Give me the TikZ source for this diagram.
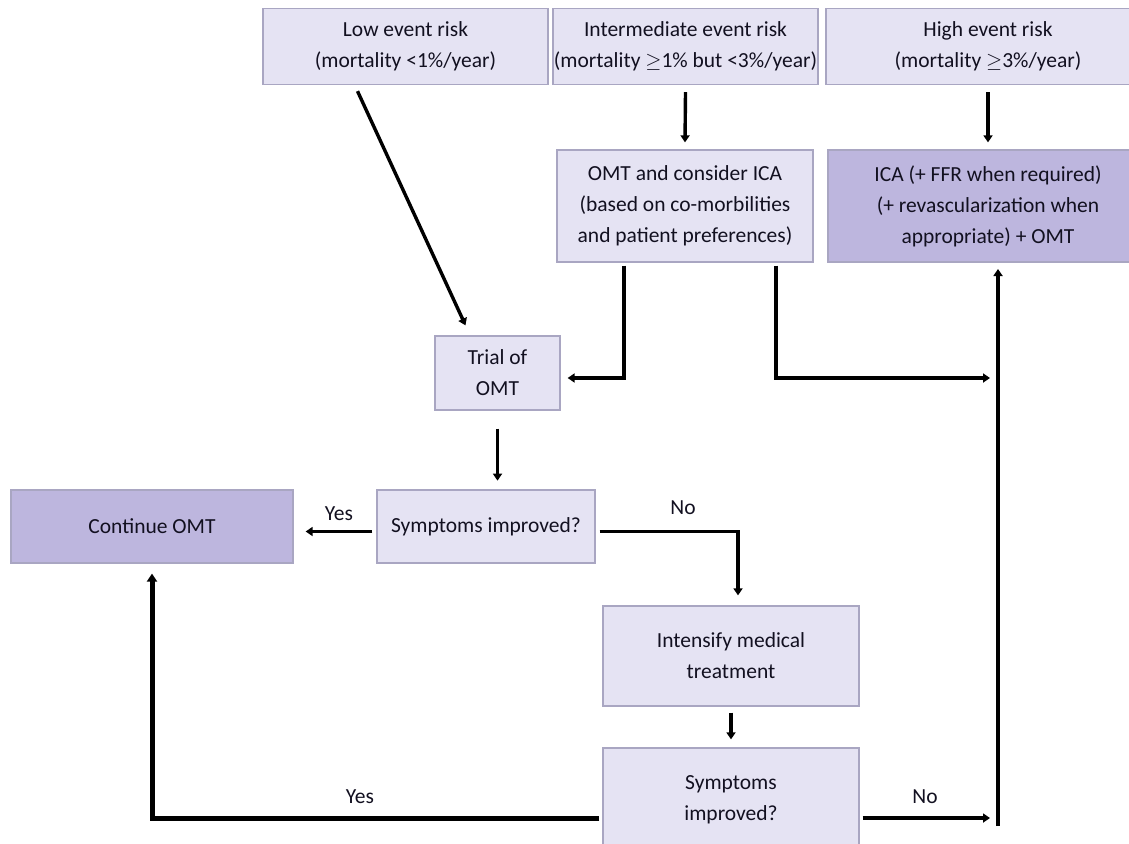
\documentclass[tikz,border=0pt]{standalone}
\usepackage{fontspec}
\setmainfont{Carlito}
\usetikzlibrary{arrows.meta}
\definecolor{lightbox}{HTML}{E5E3F3}
\definecolor{darkbox}{HTML}{BDB6DE}
\definecolor{boxline}{HTML}{A9A6C2}
\definecolor{txt}{HTML}{121020}
\begin{document}
\begin{tikzpicture}[x=1pt,y=-1pt,
  box/.style={draw=boxline, fill=lightbox, line width=1.3pt, align=center, inner sep=0pt,
    text=txt, font=\fontsize{21.5}{31}\selectfont},
  dbox/.style={box, fill=darkbox},
  arr/.style={line width=3.4pt, -{Triangle[length=7pt,width=9pt]}},
  lab/.style={text=txt, font=\fontsize{21.5}{25}\selectfont}
]
\useasboundingbox[fill=white] (0,0) rectangle (1129,843);
% top row
\node[box, minimum width=285pt, minimum height=76pt] (low) at (405.5,46.5) {Low event risk\\(mortality <1\%/year)};
\node[box, minimum width=265pt, minimum height=76pt] (inter) at (685.5,46.5) {Intermediate event risk\\(mortality $\geq$1\% but <3\%/year)};
\node[box, minimum width=324pt, minimum height=76pt] (high) at (988,46.5) {High event risk\\(mortality $\geq$3\%/year)};
% second row
\node[box, minimum width=256pt, minimum height=112pt] (omt) at (685,206) {OMT and consider ICA\\(based on co-morbilities\\and patient preferences)};
\node[dbox, minimum width=320pt, minimum height=112pt] (ica) at (988,206) {ICA (+ FFR when required)\\(+ revascularization when\\appropriate) + OMT};
% middle
\node[box, minimum width=125pt, minimum height=74pt] (trial) at (497.5,373) {Trial of\\OMT};
\node[box, minimum width=218pt, minimum height=73pt] (sym1) at (486,526.5) {Symptoms improved?};
\node[dbox, minimum width=282pt, minimum height=73pt] (cont) at (152,526.5) {Continue OMT};
\node[box, minimum width=256pt, minimum height=100pt] (intens) at (731,656) {Intensify medical\\treatment};
\node[box, minimum width=256pt, minimum height=104pt] (sym2) at (731,800) {Symptoms\\improved?};
% coordinates
\coordinate (rbot) at (998,826);
\coordinate (rtop) at (998,269);
\coordinate (rmid) at (990,378);
\coordinate (rno) at (990,818);
% connectors
\draw[arr] ([xshift=-48pt,yshift=-6pt]low.south) -- ([xshift=-32pt,yshift=10pt]trial.north);
\draw[arr] ([yshift=-7pt]inter.south) -- ([yshift=7pt]omt.north);
\draw[arr] ([yshift=-7pt]high.south) -- ([yshift=7pt]ica.north);
\draw[arr] ([xshift=-61pt,yshift=-3pt]omt.south) |- ([xshift=7pt,yshift=-5pt]trial.east);
\draw[arr] ([xshift=91pt,yshift=-3pt]omt.south) |- (rmid);
\draw[arr] (rbot) -- (rtop);
\draw[arr] ([yshift=-18pt]trial.south) -- ++(0,52);
\draw[arr] ([xshift=-4pt,yshift=-5pt]sym1.west) -- ([xshift=12pt,yshift=-5pt]cont.east)
  node[lab, midway, above=6pt] {Yes};
\draw[arr] ([xshift=4pt,yshift=-5pt]sym1.east) -| ([xshift=7pt,yshift=10pt]intens.north);
\node[lab] (no1) at (683,508) {No};
\draw[arr] ([yshift=-6pt]intens.south) -- ([yshift=8pt]sym2.north);
\draw[line width=5pt, -{Triangle[length=8pt,width=10pt]}] ([xshift=-3pt,yshift=-18pt]sym2.west) -| ([yshift=-10pt]cont.south);
\node[lab] (yes2) at (360,797) {Yes};
\draw[arr] ([xshift=3pt,yshift=-18pt]sym2.east) -- (rno);
\node[lab] (no2) at (925,797) {No};
\end{tikzpicture}
\end{document}
